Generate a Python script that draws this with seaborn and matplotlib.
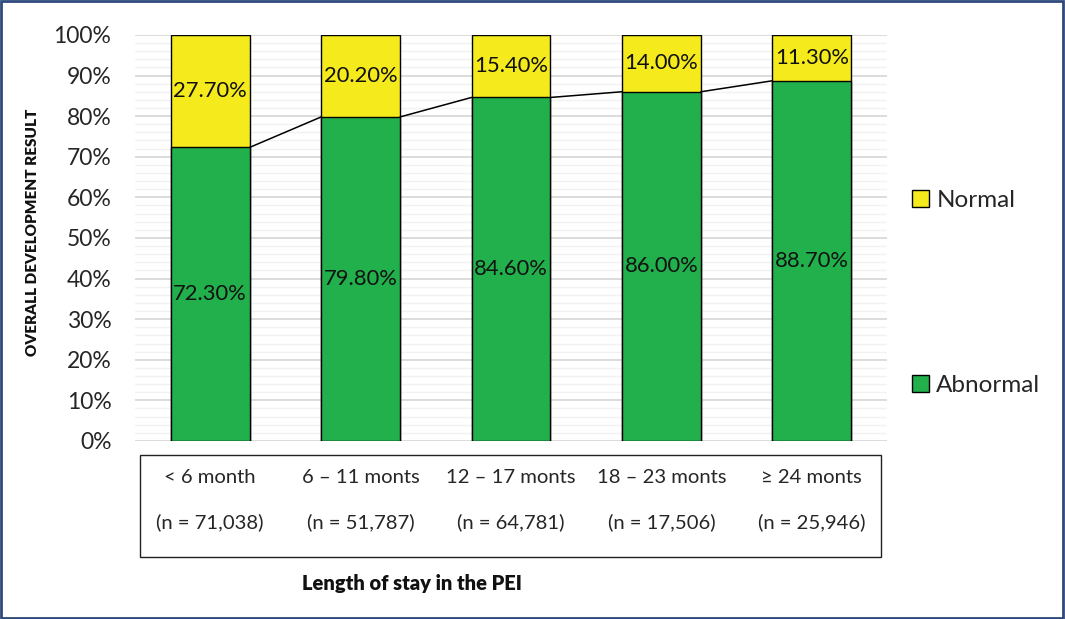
import matplotlib
matplotlib.use("Agg")
import matplotlib.pyplot as plt
import matplotlib.transforms as mtransforms
from matplotlib.patches import Rectangle, Patch
from matplotlib.ticker import MultipleLocator, FuncFormatter
import seaborn as sns
import pandas as pd

categories = ["< 6 month", "6 \u2013 11 monts", "12 \u2013 17 monts", "18 \u2013 23 monts", "\u2265 24 monts"]
sample_sizes = ["(n = 71,038)", "(n = 51,787)", "(n = 64,781)", "(n = 17,506)", "(n = 25,946)"]
abnormal = [72.3, 79.8, 84.6, 86.0, 88.7]
normal = [27.7, 20.2, 15.4, 14.0, 11.3]

yellow = "#F5EB1C"
green = "#22B04C"

df = pd.DataFrame({"stay": categories, "abnormal": abnormal, "normal": normal})
df["total"] = df["abnormal"] + df["normal"]

sns.set_style("white")
plt.rcParams["font.family"] = ["Lato", "DejaVu Sans"]

fig = plt.figure(figsize=(10.65, 6.19), dpi=100)
ax = fig.add_axes([0.1268, 0.2876, 0.706, 0.656])

w = 0.525
sns.barplot(data=df, x="stay", y="total", color=yellow, saturation=1, width=w,
            edgecolor="black", linewidth=1, ax=ax, zorder=3)
sns.barplot(data=df, x="stay", y="abnormal", color=green, saturation=1, width=w,
            edgecolor="black", linewidth=1, ax=ax, zorder=3)

# series lines between bars
for i in range(len(categories) - 1):
    ax.plot([i + w / 2, i + 1 - w / 2], [abnormal[i], abnormal[i + 1]],
            color="black", lw=1.1, zorder=4)

# value labels
for i in range(len(categories)):
    ax.text(i, abnormal[i] / 2, f"{abnormal[i]:.2f}%", ha="center", va="center",
            fontsize=15.8, color="#111111", zorder=5)
    ax.text(i, abnormal[i] + normal[i] / 2, f"{normal[i]:.2f}%", ha="center", va="center",
            fontsize=15.8, color="#111111", zorder=5)

ax.set_xlim(-0.5, len(categories) - 0.5)
ax.set_ylim(0, 100)
ax.yaxis.set_major_locator(MultipleLocator(10))
ax.yaxis.set_minor_locator(MultipleLocator(2))
ax.yaxis.set_major_formatter(FuncFormatter(lambda v, p: f"{v:.0f}%"))
ax.grid(axis="y", which="major", color="#d6d6d6", lw=1.2, zorder=0)
ax.grid(axis="y", which="minor", color="#f2f2f2", lw=1, zorder=0)
ax.set_axisbelow(True)
ax.tick_params(axis="y", which="both", length=0, labelsize=16.5, pad=17)
ax.tick_params(axis="x", length=0, labelbottom=False)
for s in ax.spines.values():
    s.set_visible(False)
ax.set_xlabel("")
ax.set_ylabel("OVERALL DEVELOPMENT RESULT", fontsize=11, fontweight="heavy", color="#111111")
ax.yaxis.set_label_coords(-0.128, 0.515)

# category box below the axis
trans = mtransforms.blended_transform_factory(ax.transData, ax.transAxes)
box = Rectangle((0.0066, -0.286), 0.9855, 0.2515, transform=ax.transAxes,
                fill=False, edgecolor="#222222", lw=1, clip_on=False)
ax.add_patch(box)
for i in range(len(categories)):
    ax.text(i, -0.091, categories[i], transform=trans, ha="center", va="center", fontsize=14.6)
    ax.text(i, -0.2, sample_sizes[i], transform=trans, ha="center", va="center", fontsize=14.6)

fig.text(0.387, 0.058, "Length of stay in the PEI", ha="center", va="center",
         fontsize=14.5, fontweight="heavy", color="#111111")

handles = [Patch(facecolor=yellow, edgecolor="black", lw=1, label="Normal"),
           Patch(facecolor=green, edgecolor="black", lw=1, label="Abnormal")]
fig.legend(handles=handles, loc="upper left", bbox_to_anchor=(0.845, 0.713),
           frameon=False, fontsize=17.5, handlelength=0.7, handleheight=0.7,
           handletextpad=0.3, labelspacing=6.75, borderpad=0)

# dark blue frame around the figure
fig.patches.append(Rectangle((0.001, 0.002), 0.997, 0.996, transform=fig.transFigure,
                             fill=False, edgecolor="#2E4A7D", lw=2))

fig.savefig("out.png", dpi=100)
